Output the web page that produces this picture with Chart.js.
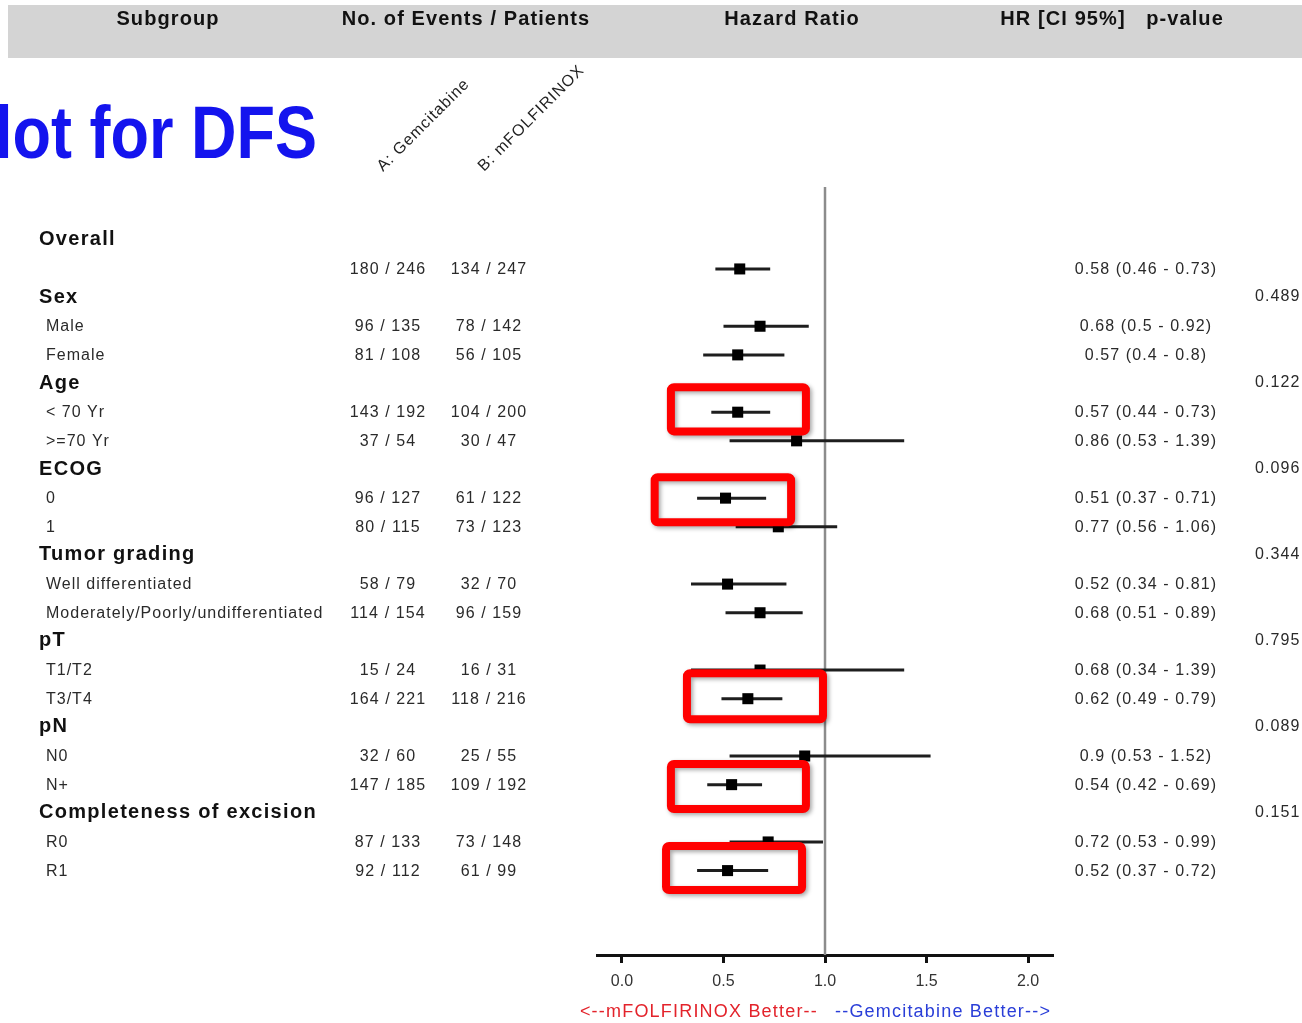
<!DOCTYPE html>
<html>
<head>
<meta charset="utf-8">
<title>Forest plot for DFS</title>
<script src="https://cdn.jsdelivr.net/npm/chart.js@4/dist/chart.umd.min.js"></script>
<style>
  html, body { margin: 0; padding: 0; background: #ffffff; }
  #wrap { position: relative; width: 1302px; height: 1023px; }
</style>
</head>
<body>
<div id="wrap"><canvas id="forest"></canvas></div>
<script>
// ---- table rows (one entry per printed row) ----
const rowLabels = ['Overall', '', 'Sex', 'Male', 'Female', 'Age', '< 70 Yr', '>=70 Yr',
  'ECOG', '0', '1', 'Tumor grading', 'Well differentiated', 'Moderately/Poorly/undifferentiated',
  'pT', 'T1/T2', 'T3/T4', 'pN', 'N0', 'N+', 'Completeness of excision', 'R0', 'R1'];
const rowIsHeader = [true, false, true, false, false, true, false, false,
  true, false, false, true, false, false,
  true, false, false, true, false, false, true, false, false];
const eventsGem = ['', '180 / 246', '', '96 / 135', '81 / 108', '', '143 / 192', '37 / 54',
  '', '96 / 127', '80 / 115', '', '58 / 79', '114 / 154',
  '', '15 / 24', '164 / 221', '', '32 / 60', '147 / 185', '', '87 / 133', '92 / 112'];
const eventsFolf = ['', '134 / 247', '', '78 / 142', '56 / 105', '', '104 / 200', '30 / 47',
  '', '61 / 122', '73 / 123', '', '32 / 70', '96 / 159',
  '', '16 / 31', '118 / 216', '', '25 / 55', '109 / 192', '', '73 / 148', '61 / 99'];
const hazardRatio = [null, 0.58, null, 0.68, 0.57, null, 0.57, 0.86,
  null, 0.51, 0.77, null, 0.52, 0.68,
  null, 0.68, 0.62, null, 0.9, 0.54, null, 0.72, 0.52];
const ciLower = [null, 0.46, null, 0.5, 0.4, null, 0.44, 0.53,
  null, 0.37, 0.56, null, 0.34, 0.51,
  null, 0.34, 0.49, null, 0.53, 0.42, null, 0.53, 0.37];
const ciUpper = [null, 0.73, null, 0.92, 0.8, null, 0.73, 1.39,
  null, 0.71, 1.06, null, 0.81, 0.89,
  null, 1.39, 0.79, null, 1.52, 0.69, null, 0.99, 0.72];
const pValues = [null, null, '0.489', null, null, '0.122', null, null,
  '0.096', null, null, '0.344', null, null,
  '0.795', null, null, '0.089', null, null, '0.151', null, null];

// ---- hazard-ratio axis ----
const xTicks = [0, 0.5, 1.0, 1.5, 2.0];
const xTickLabels = ['0.0', '0.5', '1.0', '1.5', '2.0'];
const noEffect = 1.0;

// ---- layout constants ----
const X_MIN = -0.123, X_MAX = 2.118;
const Y_MIN = -1.86, Y_MAX = 24.946;
const FONT = '"Liberation Sans", Arial, Helvetica, sans-serif';
// callout boxes in axis units: [hr from, hr to, row top, row bottom]
const callouts = [
  [0.241, 0.906, 5.13, 6.67],
  [0.161, 0.833, 8.27, 9.84],
  [0.320, 0.990, 15.11, 16.72],
  [0.241, 0.906, 18.28, 19.85],
  [0.217, 0.887, 21.14, 22.68]
];

// ---- datasets ----
const datasets = [];
datasets.push({
  type: 'line', label: 'no effect',
  data: [{ x: noEffect, y: Y_MIN }, { x: noEffect, y: Y_MAX }],
  borderColor: '#8c8c8c', borderWidth: 2.5, pointRadius: 0, order: 3
});
hazardRatio.forEach((v, i) => {
  if (v === null) return;
  datasets.push({
    type: 'line', label: 'CI ' + rowLabels[i],
    data: [{ x: ciLower[i], y: i }, { x: ciUpper[i], y: i }],
    borderColor: '#1e1e1e', borderWidth: 3, pointRadius: 0, order: 2
  });
});
datasets.push({
  type: 'scatter', label: 'HR',
  data: hazardRatio.map((v, i) => (v === null ? null : { x: v, y: i })).filter(Boolean),
  pointStyle: 'rect', pointRadius: 7.8, backgroundColor: '#000000', borderWidth: 0, order: 1
});

function txt(ctx, s, x, y, opt) {
  ctx.save();
  ctx.font = opt.font;
  ctx.fillStyle = opt.color || '#2a2a2a';
  ctx.textAlign = opt.align || 'left';
  ctx.textBaseline = opt.baseline || 'middle';
  ctx.letterSpacing = (opt.spacing || 0) + 'px';
  ctx.fillText(s, x, y);
  ctx.restore();
}

const tablePlugin = {
  id: 'forestTable',
  beforeDraw(chart) {
    const ctx = chart.ctx;
    // header band
    ctx.save();
    ctx.fillStyle = '#d4d4d4';
    ctx.fillRect(8, 5, 1294, 53);
    ctx.restore();
    const hf = 'bold 20px ' + FONT;
    txt(ctx, 'Subgroup', 168, 19, { font: hf, align: 'center', spacing: 1.1, color: '#111' });
    txt(ctx, 'No. of Events / Patients', 466, 19, { font: hf, align: 'center', spacing: 1.1, color: '#111' });
    txt(ctx, 'Hazard Ratio', 792, 19, { font: hf, align: 'center', spacing: 1.1, color: '#111' });
    txt(ctx, 'HR [CI 95%]', 1063, 19, { font: hf, align: 'center', spacing: 1.1, color: '#111' });
    txt(ctx, 'p-value', 1185, 19, { font: hf, align: 'center', spacing: 1.1, color: '#111' });

    // slide title
    ctx.save();
    ctx.font = 'bold 74px "Liberation Sans Narrow", "Liberation Sans", Arial, sans-serif';
    ctx.fillStyle = '#1414ee';
    ctx.textBaseline = 'alphabetic';
    ctx.fillText('lot for DFS', -5, 158, 322);
    ctx.restore();

    // arm labels, rotated
    const af = '16px ' + FONT;
    [['A: Gemcitabine', 383, 172], ['B: mFOLFIRINOX', 484, 172]].forEach(([s, x, y]) => {
      ctx.save();
      ctx.translate(x, y);
      ctx.rotate(-Math.PI / 4);
      txt(ctx, s, 0, 0, { font: af, baseline: 'alphabetic', spacing: 1, color: '#222' });
      ctx.restore();
    });
  },
  afterDraw(chart) {
    const ctx = chart.ctx;
    const ys = chart.scales.y;
    const xs = chart.scales.x;
    const bf = 'bold 20px ' + FONT;
    const rf = '16px ' + FONT;
    rowLabels.forEach((lab, i) => {
      const y = ys.getPixelForValue(i) + 0.5;
      if (rowIsHeader[i]) {
        txt(ctx, lab, 39, y - 1, { font: bf, spacing: 1.3, color: '#111' });
      } else if (lab) {
        txt(ctx, lab, 46, y, { font: rf, spacing: 1, color: '#2a2a2a' });
      }
      if (eventsGem[i]) txt(ctx, eventsGem[i], 388, y, { font: rf, align: 'center', spacing: 1.1 });
      if (eventsFolf[i]) txt(ctx, eventsFolf[i], 489, y, { font: rf, align: 'center', spacing: 1.1 });
      if (hazardRatio[i] !== null) {
        const s = hazardRatio[i] + ' (' + ciLower[i] + ' - ' + ciUpper[i] + ')';
        txt(ctx, s, 1146, y, { font: rf, align: 'center', spacing: 1.1 });
      }
      if (pValues[i]) txt(ctx, pValues[i], 1255, y - 1, { font: rf, spacing: 1.1 });
    });

    // direction captions under the axis
    const cf = '18px ' + FONT;
    const y0 = 1012;
    txt(ctx, '<--mFOLFIRINOX Better--', xs.getPixelForValue(noEffect) - 7, y0,
      { font: cf, align: 'right', spacing: 1.2, color: '#e3232b' });
    txt(ctx, '--Gemcitabine Better-->', xs.getPixelForValue(noEffect) + 10, y0,
      { font: cf, align: 'left', spacing: 1.2, color: '#2a3ed8' });
  },
  afterDatasetsDraw(chart) {
    const ctx = chart.ctx;
    const xs = chart.scales.x, ys = chart.scales.y;
    callouts.forEach(([a, b, t, bt]) => {
      const x1 = xs.getPixelForValue(a), x2 = xs.getPixelForValue(b);
      const y1 = ys.getPixelForValue(t), y2 = ys.getPixelForValue(bt);
      ctx.save();
      ctx.strokeStyle = '#ff0000';
      ctx.lineWidth = 8;
      ctx.lineJoin = 'round';
      ctx.shadowColor = 'rgba(0,0,0,0.35)';
      ctx.shadowBlur = 4;
      ctx.shadowOffsetX = 2;
      ctx.shadowOffsetY = 2;
      ctx.beginPath();
      ctx.roundRect(x1, y1, x2 - x1, y2 - y1, 3);
      ctx.stroke();
      ctx.restore();
    });
  }
};

new Chart(document.getElementById('forest'), {
  data: { datasets },
  options: {
    responsive: true,
    maintainAspectRatio: false,
    animation: false,
    events: [],
    layout: { padding: { left: 597, right: 250, top: 187, bottom: 23 } },
    plugins: { legend: { display: false }, tooltip: { enabled: false } },
    scales: {
      x: {
        type: 'linear', position: 'bottom', min: X_MIN, max: X_MAX,
        afterBuildTicks: s => { s.ticks = xTicks.map(v => ({ value: v })); },
        afterFit: s => { s.height = 45; },
        border: { display: true, color: '#111', width: 3 },
        grid: { drawOnChartArea: false, drawTicks: true, tickLength: 8, color: '#111', lineWidth: 3 },
        ticks: {
          color: '#333', padding: 9, maxRotation: 0, autoSkip: false,
          font: { family: FONT, size: 16 },
          callback: (v, i) => xTickLabels[i]
        }
      },
      y: { type: 'linear', display: false, reverse: true, min: Y_MIN, max: Y_MAX }
    }
  },
  plugins: [tablePlugin]
});
</script>
</body>
</html>
